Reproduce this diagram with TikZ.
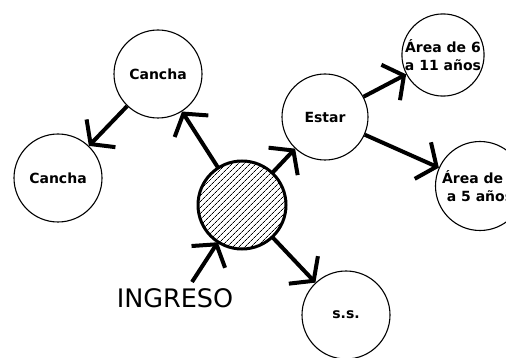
\documentclass[tikz,border=0pt]{standalone}
\usepackage{fontspec}
\setmainfont{DejaVu Sans}
\usetikzlibrary{arrows.meta,patterns.meta}
\begin{document}
\begin{tikzpicture}[x=1pt,y=-1pt,
  bubble/.style={circle,draw,line width=1.1pt,minimum size=88pt,inner sep=0pt,align=center,
    font=\fontsize{14}{18}\selectfont\bfseries},
  flow/.style={line width=4pt,-{Straight Barb[length=15pt,width=40pt]}},
  ingtext/.style={font=\fontsize{25.5}{28}\selectfont,inner sep=0pt}
]
\useasboundingbox (0,0) rectangle (506,358);
\node[bubble] (cancha1) at (158,74) {Cancha};
\node[bubble] (cancha2) at (58,178) {Cancha};
\node[circle,draw,line width=3pt,minimum size=88pt,inner sep=0pt,
  pattern={Lines[angle=45,distance=4pt,line width=0.8pt]}] (hatch) at (242,205) {};
\node[bubble,minimum size=86pt] (estar) at (325,117) {Estar};
\node[bubble,minimum size=82pt] (a6) at (443,55) {Área de 6\\a 11 años};
\node[bubble,minimum size=89pt] (a0) at (480,186) {Área de 0\\a 5 años};
\node[bubble] (ss) at (346,315) {s.s.};
\node[ingtext] (ing) at (175,298) {INGRESO};
\coordinate (ingtop) at (192,282);
\draw[flow] (hatch) -- (cancha1);
\draw[flow] (cancha1) -- (cancha2);
\draw[flow] (hatch) -- (estar);
\draw[flow] (estar) -- (a6);
\draw[flow] (estar) -- (a0);
\draw[flow] (hatch) -- (ss);
\draw[flow] (ingtop) -- (hatch);
\end{tikzpicture}
\end{document}
